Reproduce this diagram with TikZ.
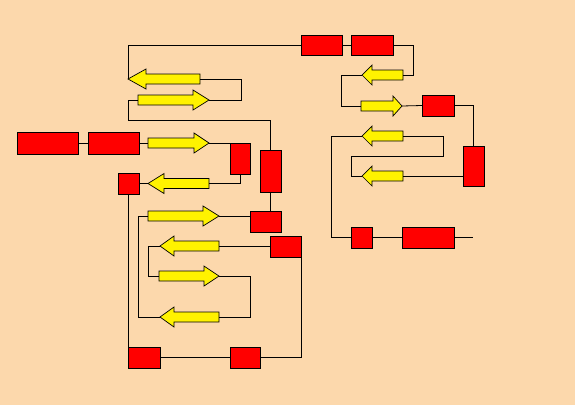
\documentclass[tikz,border=0pt]{standalone}
\usepackage{tikz}
\usetikzlibrary{calc}
\definecolor{peach}{RGB}{252,216,172}
\tikzset{
  box/.style={draw, fill=red, line width=0.8pt, inner sep=0pt, outer sep=0pt},
  yarr/.style={draw, fill=yellow, line width=0.7pt, line join=miter},
  wire/.style={line width=0.8pt}
}
% name, tail x, tip x, y, head length
\newcommand{\yelarrow}[5]{%
  \coordinate (#1-tail) at (#2,#4);
  \coordinate (#1-tip) at (#3,#4);
  \pgfmathsetmacro\hb{#3+#5*sign(#2-#3)}
  \draw[yarr] (#2,#4-5) -- (\hb,#4-5) -- (\hb,#4-10) -- (#3,#4)
    -- (\hb,#4+10) -- (\hb,#4+5) -- (#2,#4+5) -- cycle;
}
\begin{document}
\begin{tikzpicture}[x=1pt, y=-1pt]
        \fill[peach] (0,0) rectangle (575,405);
        \useasboundingbox (0,0) rectangle (575,405);

        % boxes
        \node[box, minimum width=61, minimum height=22] (B1) at (47.5,143) {};
        \node[box, minimum width=51, minimum height=22] (B2) at (113.5,143) {};
        \node[box, minimum width=20, minimum height=31] (Rc) at (240,158.5) {};
        \node[box, minimum width=21, minimum height=42] (Ra) at (270.5,171) {};
        \node[box, minimum width=21, minimum height=21] (S1) at (128.5,183.5) {};
        \node[box, minimum width=31, minimum height=21] (Rb) at (265.5,221.5) {};
        \node[box, minimum width=31, minimum height=21] (Rd) at (285.5,246.5) {};
        \node[box, minimum width=32, minimum height=21] (BL) at (144,357.5) {};
        \node[box, minimum width=30, minimum height=21] (BR) at (245,357.5) {};
        \node[box, minimum width=41, minimum height=20] (T1) at (321.5,45) {};
        \node[box, minimum width=42, minimum height=20] (T2) at (372,45) {};
        \node[box, minimum width=32, minimum height=21] (Re) at (438,105.5) {};
        \node[box, minimum width=21, minimum height=40] (Rf) at (473.5,166) {};
        \node[box, minimum width=21, minimum height=21] (S2) at (361.5,237.5) {};
        \node[box, minimum width=52, minimum height=21] (W) at (428,237.5) {};
        \coordinate (wend) at (473,237.5);

        % arrows
        \yelarrow{a1}{200}{128}{79}{18}
        \yelarrow{a2}{138}{209}{100}{16}
        \yelarrow{a3}{148}{209}{143}{15}
        \yelarrow{a4}{209}{148}{183.5}{16}
        \yelarrow{a5}{148}{219}{216}{16}
        \yelarrow{a6}{219}{160}{246}{14}
        \yelarrow{a7}{159}{219}{276}{15}
        \yelarrow{a8}{219}{160}{317}{14}
        \yelarrow{aA}{403}{362}{75}{10}
        \yelarrow{aB}{361}{402}{106}{9}
        \yelarrow{aC}{403}{362}{136}{10}
        \yelarrow{aD}{403}{362}{176}{10}

        % right part
        \draw[wire] (T1.west) -| (a1-tip);
        \draw[wire] (T1.east) -- (T2.west);
        \draw[wire] (T2.east) -- ++(20,0) |- (aA-tail);
        \draw[wire] (aA-tip) -- ++(-21,0) |- (aB-tail);
        \draw[wire] (aB-tip) -- (Re.west);
        \draw[wire] (Re.east) -| (Rf.north);
        \draw[wire] (aD-tail -| Rf.west) -- (aD-tail);
        \draw[wire] (aD-tip) -- ++(-11,0) |- ++(92,-20) |- (aC-tail);
        \draw[wire] (aC-tip) -- ++(-31,0) |- (S2.west);
        \draw[wire] (S2.east) -- (W.west);
        \draw[wire] (W.east) -- (wend);

        % left part
        \draw[wire] (a1-tail) -- ++(41,0) |- (a2-tip);
        \draw[wire] (a2-tail) -- ++(-10,0) |- ($(Ra.north)+(0,-30)$) -- (Ra.north);
        \draw[wire] (Ra.south) -- (Ra.south |- Rb.north);
        \draw[wire] (B1.east) -- (B2.west);
        \draw[wire] (B2.east) -- (a3-tail);
        \draw[wire] (a3-tip) -- (Rc.north west);
        \draw[wire] (Rc.south) |- (a4-tail);
        \draw[wire] (S1.east) -- (a4-tip);
        \draw[wire] (S1.south) -- (S1.south |- BL.north);
        \draw[wire] (a5-tip) -- (a5-tip -| Rb.west);
        \draw[wire] (a5-tail) -- ++(-10,0) |- (a8-tip);
        \draw[wire] (a6-tail) -- (a6-tail -| Rd.west);
        \draw[wire] (a6-tip) -- ++(-12,0) |- (a7-tail);
        \draw[wire] (a7-tip) -- ++(31,0) |- (a8-tail);
        \draw[wire] (Rd.south east) |- (BR.east);
        \draw[wire] (BR.west) -- (BL.east);
\end{tikzpicture}
\end{document}
